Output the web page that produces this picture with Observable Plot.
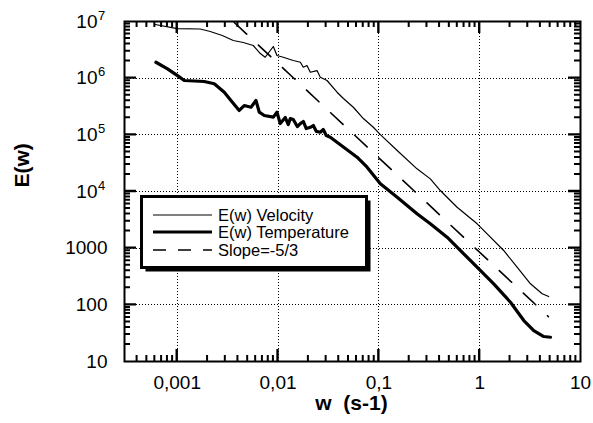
<!DOCTYPE html>
<html>
<head>
<meta charset="utf-8">
<script src="https://cdn.jsdelivr.net/npm/d3@7"></script>
<script src="https://cdn.jsdelivr.net/npm/@observablehq/plot@0.6"></script>
<style>
  html, body { margin: 0; padding: 0; background: #fff; }
  #chart svg { display: block; }
</style>
</head>
<body>
<div id="chart"></div>
<script>
// ---- Data ----
const velocityW = [0.000605, 0.001, 0.00169, 0.002126, 0.0028, 0.0036, 0.00452, 0.00568, 0.00667, 0.00746, 0.00898, 0.00976, 0.01127, 0.01416, 0.01664, 0.01781, 0.01936, 0.0209, 0.02436, 0.02624, 0.0306, 0.0385, 0.0445, 0.0558, 0.0702, 0.0881, 0.1035, 0.152, 0.239, 0.324, 0.407, 0.597, 0.944, 1.186, 1.73, 2.35, 3.19, 4.17, 4.84];
const velocityE = [8.85e6, 7.5e6, 7.37e6, 6.65e6, 5.66e6, 4.62e6, 4.26e6, 3.77e6, 2.72e6, 2.34e6, 3.62e6, 2.51e6, 2.34e6, 2.05e6, 1.91e6, 1.56e6, 1.67e6, 1.27e6, 1.36e6, 1.04e6, 9.1e5, 5.65e5, 4.37e5, 3.07e5, 1.94e5, 1.36e5, 1.01e5, 5.29e4, 2.51e4, 1.67e4, 1.04e4, 5280, 2690, 1792, 910, 461, 235, 157, 140];

const temperatureW = [0.000615, 0.000801, 0.001007, 0.001174, 0.001854, 0.00233, 0.00293, 0.00341, 0.00412, 0.00462, 0.00539, 0.00604, 0.00652, 0.0073, 0.00898, 0.00976, 0.01052, 0.0118, 0.01264, 0.01323, 0.01416, 0.01553, 0.01664, 0.01781, 0.01905, 0.0209, 0.0224, 0.024, 0.02624, 0.0281, 0.0301, 0.033, 0.0448, 0.0608, 0.0764, 0.1035, 0.152, 0.239, 0.324, 0.475, 0.695, 0.98, 1.378, 2.02, 2.74, 3.44, 4.32, 5.04];
const temperatureE = [1.91e6, 1.46e6, 1.11e6, 9.1e5, 8.73e5, 7.95e5, 5.65e5, 4.03e5, 2.69e5, 3.29e5, 3.07e5, 4.03e5, 2.51e5, 2.19e5, 2.05e5, 2.51e5, 1.58e5, 2.02e5, 1.52e5, 1.94e5, 1.86e5, 1.40e5, 1.58e5, 1.72e5, 1.29e5, 1.36e5, 1.46e5, 1.15e5, 1.11e5, 1.24e5, 9.7e4, 9.08e4, 6.05e4, 4.03e4, 2.69e4, 1.37e4, 7930, 4040, 2690, 1561, 795, 432, 235, 111, 52.9, 35.2, 27.6, 26.8];

const slopeW = [0.00368, 4.8];
const slopeE = [9.6e6, 62];

const xMajor = [0.001, 0.01, 0.1, 1, 10];
const xTickLabels = ["0,001", "0,01", "0,1", "1", "10"];
const yMajor = [10, 100, 1000, 1e4, 1e5, 1e6, 1e7];
const yTickBase = ["10", "100", "1000", "10", "10", "10", "10"];
const yTickExp = ["", "", "", "4", "5", "6", "7"];
const xGrid = [0.001, 0.01, 0.1, 1];
const yGrid = [100, 1000, 1e4, 1e5, 1e6];
const xMinor = [0.0004, 0.0005, 0.0006, 0.0007, 0.0008, 0.0009,
  0.002, 0.003, 0.004, 0.005, 0.006, 0.007, 0.008, 0.009,
  0.02, 0.03, 0.04, 0.05, 0.06, 0.07, 0.08, 0.09,
  0.2, 0.3, 0.4, 0.5, 0.6, 0.7, 0.8, 0.9,
  2, 3, 4, 5, 6, 7, 8, 9];
const yMinor = [20, 30, 40, 50, 60, 70, 80, 90,
  200, 300, 400, 500, 600, 700, 800, 900,
  2000, 3000, 4000, 5000, 6000, 7000, 8000, 9000,
  2e4, 3e4, 4e4, 5e4, 6e4, 7e4, 8e4, 9e4,
  2e5, 3e5, 4e5, 5e5, 6e5, 7e5, 8e5, 9e5,
  2e6, 3e6, 4e6, 5e6, 6e6, 7e6, 8e6, 9e6];

const legendLabels = ["E(w) Velocity", "E(w) Temperature", "Slope=-5/3"];

// ---- Tables built from the arrays ----
const velocity = velocityW.map((w, i) => ({w, e: velocityE[i]}));
const temperature = temperatureW.map((w, i) => ({w, e: temperatureE[i]}));
const slope = slopeW.map((w, i) => ({w, e: slopeE[i]}));
const yPlain = yMajor.map((v, i) => ({v, t: yTickBase[i], e: yTickExp[i]}));
const xMajorIn = xMajor.filter(v => v < 10);
const yMajorIn = yMajor.filter(v => v > 10 && v < 1e7);

const font = "'Liberation Sans', Arial, Helvetica, sans-serif";
const W = 593, H = 423, mL = 124, mR = 13, mT = 21, mB = 62;
const minorLen = 6, majorLen = 12;
const tickColor = "#000";
const gridStyle = {stroke: "#000", strokeOpacity: 1, strokeWidth: 1, strokeDasharray: "1,2", shapeRendering: "crispEdges"};

const chart = Plot.plot({
  width: W,
  height: H,
  marginLeft: mL,
  marginRight: mR,
  marginTop: mT,
  marginBottom: mB,
  style: {fontFamily: font, background: "#fff", color: "#000"},
  x: {type: "log", domain: [0.0003, 10], axis: null},
  y: {type: "log", domain: [10, 1e7], axis: null},
  marks: [
    Plot.gridX(xGrid, gridStyle),
    Plot.gridY(yGrid, gridStyle),
    Plot.frame({stroke: "#000", strokeWidth: 2}),
    Plot.line(slope, {x: "w", y: "e", stroke: "#000", strokeWidth: 1.6, strokeDasharray: "17,16"}),
    Plot.line(velocity, {x: "w", y: "e", stroke: "#000", strokeWidth: 1.2, strokeLinejoin: "round"}),
    Plot.line(temperature, {x: "w", y: "e", stroke: "#000", strokeWidth: 3.2, strokeLinejoin: "round"}),
    // x tick labels
    Plot.text(xMajor, {x: d => d, frameAnchor: "bottom", dy: 27, text: (d, i) => xTickLabels[i], fontSize: 19, fill: "#000"}),
    // y tick labels
    Plot.text(yPlain.filter(d => !d.e), {y: "v", frameAnchor: "left", dx: -17, textAnchor: "end", text: "t", fontSize: 19, fill: "#000"}),
    Plot.text(yPlain.filter(d => d.e), {y: "v", frameAnchor: "left", dx: -27, textAnchor: "end", text: "t", fontSize: 19, fill: "#000"}),
    Plot.text(yPlain.filter(d => d.e), {y: "v", frameAnchor: "left", dx: -26.5, dy: -6, textAnchor: "start", text: "e", fontSize: 13, fill: "#000"}),
    // axis titles
    Plot.text(["E(w)"], {frameAnchor: "left", dx: -102, dy: -4, rotate: -90, text: d => d, fontSize: 21, fontWeight: "bold", fill: "#000"}),
    Plot.text(["w\u00a0\u00a0(s-1)"], {frameAnchor: "bottom", dy: 48, dx: -1, text: d => d, fontSize: 21, fontWeight: "bold", fill: "#000"})
  ]
});

const svg = d3.select(chart);

// ---- Inward ticks on all four sides, positioned with Plot's own scales ----
const sxObj = chart.scale("x"), syObj = chart.scale("y");
const sx = d3.scaleLog().domain(sxObj.domain).range(sxObj.range);
const sy = d3.scaleLog().domain(syObj.domain).range(syObj.range);
const fL = mL, fR = W - mR, fT = mT, fB = H - mB;
let tickPath = "";
function addXTicks(values, len) {
  values.forEach(v => {
    const px = sx(v);
    tickPath += `M${px},${fB}V${fB - len}M${px},${fT}V${fT + len}`;
  });
}
function addYTicks(values, len) {
  values.forEach(v => {
    const py = sy(v);
    tickPath += `M${fL},${py}H${fL + len}M${fR},${py}H${fR - len}`;
  });
}
addXTicks(xMinor, minorLen);
addYTicks(yMinor, minorLen);
svg.append("path").attr("d", tickPath).attr("fill", "none").attr("stroke", tickColor).attr("stroke-width", 2);
tickPath = "";
addXTicks(xMajorIn, majorLen);
addYTicks(yMajorIn, majorLen);
svg.append("path").attr("d", tickPath).attr("fill", "none").attr("stroke", tickColor).attr("stroke-width", 2.4);

// ---- Legend box with drop shadow ----
const lg = svg.append("g").attr("font-family", font).attr("text-anchor", "start");
const bx = 141.5, by = 196.5, bw = 225, bh = 71;
lg.append("rect").attr("x", bx + 4).attr("y", by + 4).attr("width", bw).attr("height", bh).attr("fill", "#000");
lg.append("rect").attr("x", bx).attr("y", by).attr("width", bw).attr("height", bh)
  .attr("fill", "#fff").attr("stroke", "#000").attr("stroke-width", 3);
const rowsY = [215, 232, 250];
const widths = [1.2, 3.2, 1.6];
const dashes = [null, null, "13,12"];
legendLabels.forEach((lab, i) => {
  const ln = lg.append("line").attr("x1", 153).attr("x2", 212).attr("y1", rowsY[i]).attr("y2", rowsY[i])
    .attr("stroke", "#000").attr("stroke-width", widths[i]);
  if (dashes[i]) ln.attr("stroke-dasharray", dashes[i]);
  lg.append("text").attr("x", 218).attr("y", rowsY[i]).attr("dy", "0.35em")
    .attr("text-anchor", "start").attr("font-size", 16.5).attr("fill", "#000").text(lab);
});

document.getElementById("chart").appendChild(chart);
</script>
</body>
</html>
